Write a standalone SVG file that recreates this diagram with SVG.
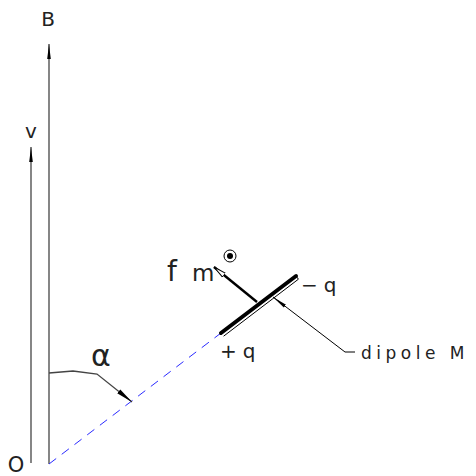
<svg xmlns="http://www.w3.org/2000/svg" width="476" height="476" viewBox="0 0 476 476">
<style>
text{font-family:"DejaVu Sans","Liberation Sans",sans-serif;fill:#222}
.ln{stroke:#444;stroke-width:1.3;fill:none}
</style>
<defs>
<marker id="ah2" markerWidth="16" markerHeight="8" refX="15" refY="4" orient="auto" markerUnits="userSpaceOnUse">
<path d="M0,2.2 L15,4 L0,5.8 Z" fill="#000"/>
</marker>
<marker id="ah4" markerWidth="18" markerHeight="10" refX="17" refY="5" orient="auto" markerUnits="userSpaceOnUse">
<path d="M0,2.5 L17,5 L0,7.5 Z" fill="#000"/>
</marker>
<marker id="ah3" markerWidth="14" markerHeight="8" refX="13" refY="4" orient="auto" markerUnits="userSpaceOnUse">
<path d="M0,1.5 L13,4 L0,6.5 Z" fill="#fff" stroke="#000" stroke-width="1"/>
</marker>
</defs>
<g id="connectors">
<line class="ln" x1="49" y1="464" x2="49" y2="44" marker-end="url(#ah2)"/>
<line class="ln" x1="31" y1="463" x2="31" y2="147" marker-end="url(#ah2)"/>
<line x1="49" y1="464" x2="221" y2="333" stroke="#2a2aff" stroke-width="1" stroke-dasharray="9,7"/>
<path d="M49,373 L73,371 L97,374 L132,402" class="ln" stroke-width="1" marker-end="url(#ah4)"/>
<line x1="257" y1="302" x2="214" y2="267" stroke="#000" stroke-width="2.4" marker-end="url(#ah3)"/>
<path d="M355,352 L345,352 L273,297" stroke="#000" stroke-width="1" fill="none" marker-end="url(#ah2)"/>
</g>
<g id="dipole">
<line x1="221" y1="333" x2="296" y2="276" stroke="#000" stroke-width="4" stroke-linecap="round"/>
<line x1="223.6" y1="336.2" x2="298.4" y2="279.2" stroke="#000" stroke-width="1"/>
<line x1="298.4" y1="279.2" x2="296" y2="276" stroke="#000" stroke-width="1"/>
</g>
<g id="field-symbol">
<circle cx="230" cy="256" r="6" fill="none" stroke="#000" stroke-width="1"/>
<circle cx="230" cy="256" r="3" fill="#000"/>
</g>
<g id="labels">
<text x="48" y="26" font-size="20" text-anchor="middle">B</text>
<text x="31" y="138" font-size="20" text-anchor="middle">v</text>
<text x="16" y="472" font-size="21" text-anchor="middle">O</text>
<text x="101" y="366" font-size="30" font-family="Liberation Serif,serif" text-anchor="middle">α</text>
<text x="167" y="281" font-size="28">f</text>
<text x="192" y="281" font-size="23">m</text>
<text x="301" y="292" font-size="20" letter-spacing="6">−q</text>
<text x="220" y="358" font-size="20" letter-spacing="6">+q</text>
<text x="361" y="359" font-size="17" letter-spacing="4.5">dipole  M</text>
</g>
</svg>
